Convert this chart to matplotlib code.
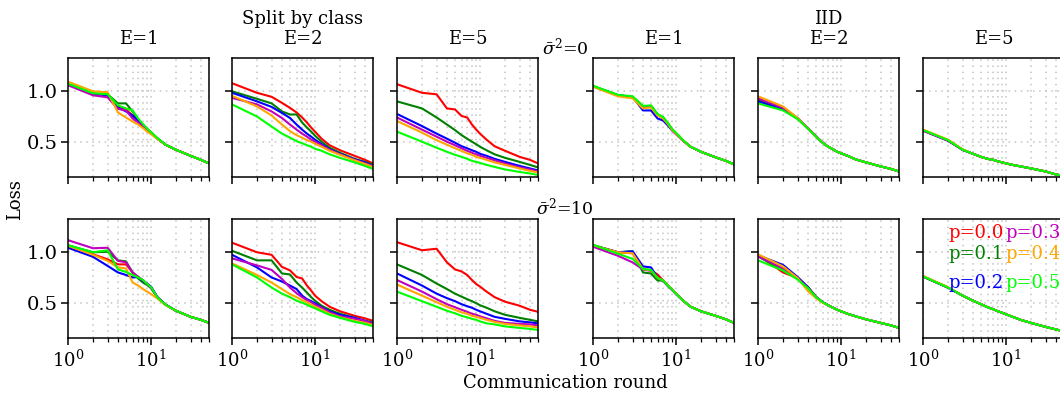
import matplotlib
matplotlib.use("Agg")
import matplotlib.pyplot as plt

plt.rcParams["font.family"] = "DejaVu Serif"
plt.rcParams["mathtext.fontset"] = "dejavuserif"
plt.rcParams["font.size"] = 13

rounds = [1, 2, 3, 4, 5, 6, 7, 8, 9, 10, 12, 15, 20, 30, 40, 50]
p_labels = ["p=0.0", "p=0.1", "p=0.2", "p=0.3", "p=0.4", "p=0.5"]
colors = ["red", "green", "blue", "m", "orange", "lime"]
epochs = ["E=1", "E=2", "E=5"]

# split by class, sigma^2 = 0 (rows: p=0.0 .. p=0.5)
split_s0_e1 = [
    [1.07, 0.977, 0.965, 0.85, 0.82, 0.76, 0.70, 0.655, 0.62, 0.59, 0.53, 0.47, 0.42, 0.36, 0.32, 0.285],
    [1.07, 0.975, 0.97, 0.88, 0.88, 0.80, 0.72, 0.665, 0.625, 0.59, 0.53, 0.47, 0.42, 0.36, 0.32, 0.285],
    [1.07, 0.975, 0.96, 0.84, 0.80, 0.76, 0.71, 0.665, 0.625, 0.59, 0.53, 0.47, 0.42, 0.36, 0.32, 0.285],
    [1.06, 0.96, 0.94, 0.825, 0.81, 0.73, 0.69, 0.65, 0.615, 0.585, 0.53, 0.47, 0.42, 0.36, 0.32, 0.285],
    [1.095, 1.0, 0.99, 0.79, 0.74, 0.70, 0.67, 0.635, 0.60, 0.575, 0.525, 0.47, 0.42, 0.36, 0.32, 0.285],
    [1.075, 0.98, 0.97, 0.86, 0.83, 0.81, 0.73, 0.675, 0.63, 0.595, 0.535, 0.47, 0.42, 0.36, 0.32, 0.285],
]
split_s0_e2 = [
    [1.08, 0.985, 0.945, 0.885, 0.835, 0.79, 0.74, 0.69, 0.64, 0.60, 0.53, 0.465, 0.415, 0.36, 0.32, 0.285],
    [1.0, 0.925, 0.88, 0.80, 0.77, 0.77, 0.69, 0.64, 0.60, 0.56, 0.50, 0.44, 0.39, 0.33, 0.30, 0.27],
    [0.985, 0.90, 0.845, 0.785, 0.735, 0.67, 0.62, 0.58, 0.55, 0.52, 0.475, 0.425, 0.38, 0.325, 0.295, 0.26],
    [0.935, 0.87, 0.80, 0.735, 0.67, 0.62, 0.58, 0.55, 0.52, 0.50, 0.465, 0.42, 0.375, 0.32, 0.285, 0.255],
    [0.955, 0.85, 0.76, 0.67, 0.605, 0.565, 0.54, 0.515, 0.50, 0.48, 0.45, 0.41, 0.37, 0.315, 0.28, 0.25],
    [0.87, 0.75, 0.65, 0.58, 0.54, 0.505, 0.485, 0.465, 0.45, 0.43, 0.41, 0.375, 0.34, 0.295, 0.26, 0.23],
]
split_s0_e5 = [
    [1.07, 0.985, 0.97, 0.83, 0.82, 0.755, 0.74, 0.67, 0.62, 0.58, 0.52, 0.455, 0.41, 0.35, 0.32, 0.285],
    [0.90, 0.83, 0.74, 0.67, 0.615, 0.565, 0.53, 0.50, 0.475, 0.45, 0.415, 0.375, 0.34, 0.30, 0.27, 0.245],
    [0.775, 0.655, 0.58, 0.53, 0.49, 0.455, 0.435, 0.415, 0.40, 0.38, 0.36, 0.33, 0.30, 0.26, 0.235, 0.215],
    [0.74, 0.62, 0.55, 0.50, 0.465, 0.435, 0.41, 0.39, 0.375, 0.36, 0.34, 0.315, 0.285, 0.245, 0.225, 0.205],
    [0.705, 0.59, 0.515, 0.47, 0.435, 0.41, 0.385, 0.37, 0.35, 0.34, 0.32, 0.295, 0.27, 0.235, 0.21, 0.195],
    [0.60, 0.50, 0.44, 0.40, 0.37, 0.35, 0.33, 0.31, 0.30, 0.29, 0.27, 0.25, 0.225, 0.20, 0.185, 0.17],
]

# split by class, sigma^2 = 10
split_s10_e1 = [
    [1.065, 0.98, 0.93, 0.88, 0.88, 0.80, 0.755, 0.72, 0.68, 0.65, 0.55, 0.48, 0.42, 0.36, 0.33, 0.30],
    [1.07, 1.0, 1.005, 0.92, 0.91, 0.80, 0.74, 0.70, 0.675, 0.645, 0.55, 0.48, 0.42, 0.36, 0.33, 0.30],
    [1.045, 0.955, 0.865, 0.80, 0.775, 0.75, 0.755, 0.715, 0.69, 0.66, 0.555, 0.48, 0.42, 0.36, 0.33, 0.30],
    [1.12, 1.04, 1.045, 0.915, 0.90, 0.80, 0.755, 0.725, 0.685, 0.65, 0.55, 0.48, 0.42, 0.36, 0.33, 0.30],
    [1.065, 0.975, 0.915, 0.85, 0.84, 0.70, 0.67, 0.635, 0.61, 0.585, 0.54, 0.475, 0.42, 0.36, 0.33, 0.30],
    [1.07, 1.0, 1.02, 0.83, 0.805, 0.775, 0.75, 0.725, 0.685, 0.655, 0.55, 0.48, 0.42, 0.36, 0.33, 0.30],
]
split_s10_e2 = [
    [1.095, 1.0, 0.975, 0.855, 0.82, 0.755, 0.74, 0.67, 0.62, 0.57, 0.515, 0.46, 0.415, 0.37, 0.345, 0.32],
    [1.015, 0.92, 0.92, 0.79, 0.78, 0.70, 0.65, 0.60, 0.555, 0.52, 0.47, 0.43, 0.39, 0.35, 0.32, 0.305],
    [0.975, 0.85, 0.75, 0.71, 0.67, 0.635, 0.57, 0.535, 0.515, 0.495, 0.455, 0.415, 0.38, 0.35, 0.32, 0.295],
    [0.94, 0.87, 0.825, 0.735, 0.65, 0.595, 0.555, 0.525, 0.505, 0.48, 0.45, 0.405, 0.365, 0.34, 0.32, 0.29],
    [0.89, 0.775, 0.70, 0.635, 0.585, 0.555, 0.525, 0.505, 0.48, 0.46, 0.43, 0.39, 0.355, 0.32, 0.30, 0.28],
    [0.88, 0.75, 0.65, 0.59, 0.555, 0.52, 0.50, 0.48, 0.46, 0.445, 0.415, 0.38, 0.35, 0.31, 0.29, 0.265],
]
split_s10_e5 = [
    [1.10, 1.02, 1.035, 0.90, 0.83, 0.81, 0.775, 0.725, 0.685, 0.66, 0.61, 0.555, 0.51, 0.47, 0.43, 0.41],
    [0.88, 0.775, 0.69, 0.635, 0.59, 0.56, 0.535, 0.515, 0.495, 0.475, 0.45, 0.415, 0.38, 0.35, 0.33, 0.315],
    [0.79, 0.67, 0.59, 0.545, 0.515, 0.485, 0.465, 0.45, 0.43, 0.415, 0.39, 0.36, 0.34, 0.315, 0.305, 0.295],
    [0.725, 0.61, 0.535, 0.485, 0.455, 0.43, 0.41, 0.39, 0.38, 0.365, 0.345, 0.32, 0.30, 0.29, 0.285, 0.275],
    [0.68, 0.57, 0.505, 0.46, 0.43, 0.405, 0.39, 0.37, 0.36, 0.35, 0.33, 0.31, 0.29, 0.275, 0.265, 0.255],
    [0.61, 0.515, 0.46, 0.42, 0.395, 0.37, 0.355, 0.34, 0.33, 0.315, 0.295, 0.285, 0.265, 0.25, 0.24, 0.23],
]

# IID, sigma^2 = 0
iid_s0_e1 = [
    [1.05, 0.96, 0.94, 0.85, 0.855, 0.77, 0.74, 0.68, 0.62, 0.585, 0.515, 0.45, 0.40, 0.345, 0.31, 0.275],
    [1.05, 0.96, 0.945, 0.85, 0.855, 0.77, 0.735, 0.68, 0.62, 0.58, 0.515, 0.45, 0.40, 0.345, 0.31, 0.275],
    [1.05, 0.96, 0.945, 0.81, 0.81, 0.73, 0.71, 0.66, 0.61, 0.575, 0.515, 0.45, 0.40, 0.345, 0.31, 0.275],
    [1.05, 0.96, 0.94, 0.84, 0.845, 0.765, 0.73, 0.675, 0.615, 0.58, 0.515, 0.45, 0.40, 0.345, 0.31, 0.275],
    [1.045, 0.95, 0.93, 0.83, 0.84, 0.76, 0.73, 0.675, 0.615, 0.58, 0.515, 0.45, 0.40, 0.345, 0.31, 0.275],
    [1.055, 0.965, 0.95, 0.855, 0.86, 0.775, 0.745, 0.685, 0.625, 0.59, 0.52, 0.45, 0.40, 0.345, 0.31, 0.275],
]
iid_s0_e2 = [
    [0.92, 0.83, 0.73, 0.63, 0.555, 0.49, 0.45, 0.425, 0.40, 0.385, 0.36, 0.325, 0.295, 0.255, 0.23, 0.205],
    [0.91, 0.825, 0.73, 0.63, 0.55, 0.49, 0.45, 0.425, 0.40, 0.385, 0.36, 0.325, 0.295, 0.255, 0.23, 0.205],
    [0.90, 0.82, 0.73, 0.63, 0.55, 0.49, 0.45, 0.425, 0.40, 0.385, 0.36, 0.325, 0.295, 0.255, 0.23, 0.205],
    [0.93, 0.835, 0.735, 0.635, 0.555, 0.495, 0.45, 0.425, 0.40, 0.385, 0.36, 0.325, 0.295, 0.255, 0.23, 0.205],
    [0.95, 0.85, 0.735, 0.63, 0.55, 0.49, 0.45, 0.425, 0.40, 0.385, 0.36, 0.325, 0.295, 0.255, 0.23, 0.205],
    [0.88, 0.81, 0.725, 0.63, 0.55, 0.49, 0.45, 0.425, 0.40, 0.385, 0.36, 0.325, 0.295, 0.255, 0.23, 0.205],
]
iid_s0_e5 = [
    [0.615, 0.515, 0.42, 0.38, 0.35, 0.33, 0.32, 0.305, 0.295, 0.285, 0.27, 0.255, 0.235, 0.205, 0.175, 0.16],
    [0.615, 0.515, 0.42, 0.38, 0.35, 0.33, 0.32, 0.305, 0.295, 0.285, 0.27, 0.255, 0.235, 0.205, 0.175, 0.16],
    [0.61, 0.51, 0.42, 0.38, 0.35, 0.33, 0.32, 0.305, 0.295, 0.285, 0.27, 0.255, 0.235, 0.205, 0.175, 0.16],
    [0.61, 0.51, 0.42, 0.38, 0.35, 0.33, 0.32, 0.305, 0.295, 0.285, 0.27, 0.255, 0.235, 0.205, 0.175, 0.16],
    [0.62, 0.52, 0.425, 0.38, 0.35, 0.33, 0.32, 0.305, 0.295, 0.285, 0.27, 0.255, 0.235, 0.205, 0.175, 0.16],
    [0.615, 0.515, 0.42, 0.38, 0.35, 0.33, 0.32, 0.305, 0.295, 0.285, 0.27, 0.255, 0.235, 0.205, 0.175, 0.16],
]

# IID, sigma^2 = 10
iid_s10_e1 = [
    [1.07, 1.0, 0.99, 0.835, 0.82, 0.78, 0.72, 0.67, 0.63, 0.59, 0.525, 0.46, 0.415, 0.37, 0.335, 0.30],
    [1.07, 1.0, 1.01, 0.80, 0.79, 0.72, 0.72, 0.665, 0.63, 0.59, 0.525, 0.46, 0.415, 0.37, 0.335, 0.30],
    [1.07, 1.0, 1.01, 0.86, 0.85, 0.75, 0.715, 0.665, 0.625, 0.585, 0.525, 0.46, 0.415, 0.37, 0.335, 0.30],
    [1.055, 0.965, 0.90, 0.83, 0.815, 0.745, 0.72, 0.67, 0.63, 0.59, 0.525, 0.46, 0.415, 0.37, 0.335, 0.30],
    [1.07, 1.0, 0.99, 0.835, 0.82, 0.745, 0.72, 0.67, 0.63, 0.59, 0.525, 0.46, 0.415, 0.37, 0.335, 0.30],
    [1.075, 0.985, 0.935, 0.835, 0.825, 0.745, 0.72, 0.67, 0.63, 0.59, 0.525, 0.46, 0.415, 0.37, 0.335, 0.30],
]
iid_s10_e2 = [
    [0.975, 0.80, 0.745, 0.655, 0.56, 0.505, 0.475, 0.45, 0.43, 0.415, 0.39, 0.365, 0.335, 0.30, 0.275, 0.25],
    [0.96, 0.82, 0.745, 0.65, 0.555, 0.505, 0.475, 0.45, 0.43, 0.415, 0.39, 0.365, 0.335, 0.30, 0.275, 0.25],
    [0.97, 0.875, 0.755, 0.655, 0.555, 0.505, 0.475, 0.45, 0.43, 0.415, 0.39, 0.365, 0.335, 0.30, 0.275, 0.25],
    [0.96, 0.84, 0.745, 0.645, 0.555, 0.505, 0.475, 0.45, 0.43, 0.415, 0.39, 0.365, 0.335, 0.30, 0.275, 0.25],
    [0.98, 0.86, 0.745, 0.615, 0.545, 0.50, 0.475, 0.45, 0.43, 0.415, 0.39, 0.365, 0.335, 0.30, 0.275, 0.25],
    [0.92, 0.82, 0.73, 0.645, 0.555, 0.505, 0.475, 0.45, 0.43, 0.415, 0.39, 0.365, 0.335, 0.30, 0.275, 0.25],
]
iid_s10_e5 = [
    [0.76, 0.65, 0.57, 0.52, 0.485, 0.455, 0.435, 0.415, 0.40, 0.385, 0.36, 0.33, 0.30, 0.26, 0.235, 0.215],
    [0.76, 0.65, 0.57, 0.52, 0.485, 0.455, 0.435, 0.415, 0.40, 0.385, 0.36, 0.33, 0.30, 0.26, 0.235, 0.215],
    [0.76, 0.65, 0.57, 0.52, 0.485, 0.455, 0.435, 0.415, 0.40, 0.385, 0.36, 0.33, 0.30, 0.26, 0.235, 0.215],
    [0.76, 0.65, 0.57, 0.52, 0.485, 0.455, 0.435, 0.415, 0.40, 0.385, 0.36, 0.33, 0.30, 0.26, 0.235, 0.215],
    [0.765, 0.655, 0.57, 0.52, 0.485, 0.455, 0.435, 0.415, 0.40, 0.385, 0.36, 0.33, 0.30, 0.26, 0.235, 0.215],
    [0.76, 0.65, 0.57, 0.52, 0.485, 0.455, 0.435, 0.415, 0.40, 0.385, 0.36, 0.33, 0.30, 0.26, 0.235, 0.215],
]

panels = [
    [split_s0_e1, split_s0_e2, split_s0_e5, iid_s0_e1, iid_s0_e2, iid_s0_e5],
    [split_s10_e1, split_s10_e2, split_s10_e5, iid_s10_e1, iid_s10_e2, iid_s10_e5],
]

fig = plt.figure(figsize=(10.6, 4.0), dpi=100)

W, H = 1060.0, 400.0
col_left = [68, 232, 397, 593, 758, 923]
row_top = [58, 219]
ax_w, ax_h = 141, 119
grid_style = dict(ls=(0, (1, 3)), color="#c4c4c4", lw=1.1)
title_kw = dict(pad=10, fontsize=13, linespacing=1.15)

axes = []
for r in range(2):
    row = []
    for c in range(6):
        ax = fig.add_axes([col_left[c] / W, 1 - (row_top[r] + ax_h) / H, ax_w / W, ax_h / H])
        for series, col in zip(panels[r][c], colors):
            ax.plot(rounds, series, color=col, lw=1.5)
        ax.set_xscale("log")
        ax.set_xlim(1, 50)
        ax.set_ylim(0.15, 1.33)
        ax.set_yticks([0.5, 1.0])
        ax.grid(True, which="major", **grid_style)
        ax.grid(True, which="minor", axis="x", **grid_style)
        ax.tick_params(which="major", length=5, width=1.1, direction="out")
        ax.tick_params(which="minor", length=3, width=0.9, direction="out")
        ax.tick_params(axis="y", labelsize=14, pad=2.5)
        for s in ax.spines.values():
            s.set_linewidth(1.1)
        if c > 0:
            ax.tick_params(labelleft=False)
        if r == 0:
            ax.tick_params(labelbottom=False)
            ax.set_title(epochs[c % 3], **title_kw)
        row.append(ax)
    axes.append(row)

axes[0][1].set_title("Split by class\n" + epochs[1], **title_kw)
axes[0][4].set_title("IID\n" + epochs[1], **title_kw)

fig.text(565 / W, 1 - 47 / H, r"$\bar{\sigma}^2$=0", ha="center", va="center", fontsize=12.5)
fig.text(565 / W, 1 - 207 / H, r"$\bar{\sigma}^2$=10", ha="center", va="center", fontsize=12.5)
fig.text(15 / W, 0.5, "Loss", rotation=90, ha="center", va="center")
fig.text(565 / W, 1 - 383 / H, "Communication round", ha="center", va="center")

# colour-coded labels in the last panel
leg_ax = axes[1][5]
leg_pos = [(0.18, 0.88), (0.18, 0.71), (0.18, 0.46), (0.585, 0.88), (0.585, 0.71), (0.585, 0.46)]
for lab, col, (tx, ty) in zip(p_labels, colors, leg_pos):
    leg_ax.text(tx, ty, lab, color=col, transform=leg_ax.transAxes, ha="left", va="center", fontsize=13)

fig.savefig("out.png", dpi=100)
